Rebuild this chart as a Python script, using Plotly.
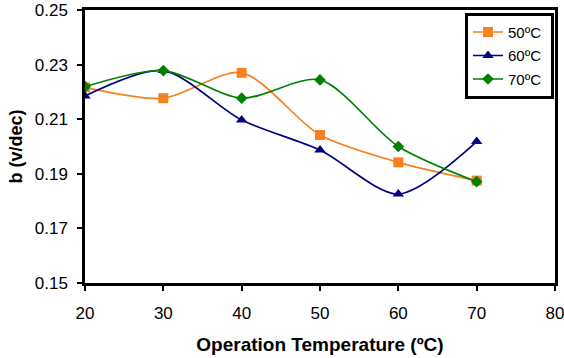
import plotly.graph_objects as go

temps = [20, 30, 40, 50, 60, 70]
b_50 = [0.2217, 0.2177, 0.2270, 0.2042, 0.1942, 0.1875]
b_60 = [0.2185, 0.2278, 0.2097, 0.1987, 0.1826, 0.2018]
b_70 = [0.2219, 0.2278, 0.2177, 0.2244, 0.2000, 0.1871]
names = ["50ºC", "60ºC", "70ºC"]
colors = ["#F7801F", "#000080", "#008000"]
symbols = ["square", "triangle-up", "diamond"]
sizes = [10, 10, 9]

fig = go.Figure()
for ys, n, c, s, sz in zip([b_50, b_60, b_70], names, colors, symbols, sizes):
    fig.add_trace(go.Scatter(
        x=temps, y=ys, name=n + "\u00a0", mode="lines+markers", legendgroup=n,
        line=dict(color=c, width=1.7, shape="spline", smoothing=0.8),
        marker=dict(symbol=s, size=sz, color=c),
    ))

font = "Liberation Sans, Arial, sans-serif"
fig.update_layout(
    width=564, height=358,
    margin=dict(l=85, r=9, t=10, b=75),
    paper_bgcolor="white", plot_bgcolor="white",
    font=dict(family=font, size=17, color="black"),
    showlegend=True,
    legend=dict(x=0.8085, y=0.99, xanchor="left", yanchor="top",
                bgcolor="white", bordercolor="black", borderwidth=3,
                font=dict(size=15), tracegroupgap=1, itemwidth=30),
    xaxis=dict(range=[20, 80], tickvals=[20, 30, 40, 50, 60, 70, 80],
               automargin=False, ticklabeloverflow="allow",
               showgrid=False, zeroline=False, showline=True, mirror=True,
               linecolor="black", linewidth=2.5, ticks="outside", ticklen=5,
               tickcolor="black", tickwidth=1.5, ticklabelstandoff=8,
               title=dict(text="<b>Operation Temperature (ºC)</b>", font=dict(size=19), standoff=16)),
    yaxis=dict(range=[0.15, 0.25], tickvals=[0.15, 0.17, 0.19, 0.21, 0.23, 0.25],
               tickformat=".2f", automargin=False, ticklabeloverflow="allow",
               showgrid=False, zeroline=False, showline=True, mirror=True,
               linecolor="black", linewidth=2.5, ticks="outside", ticklen=5,
               tickcolor="black", tickwidth=1.5, ticklabelstandoff=6,
               title=dict(text="<b>b (v/dec)</b>", font=dict(size=18), standoff=8)),
)

fig.write_html("out.html")
